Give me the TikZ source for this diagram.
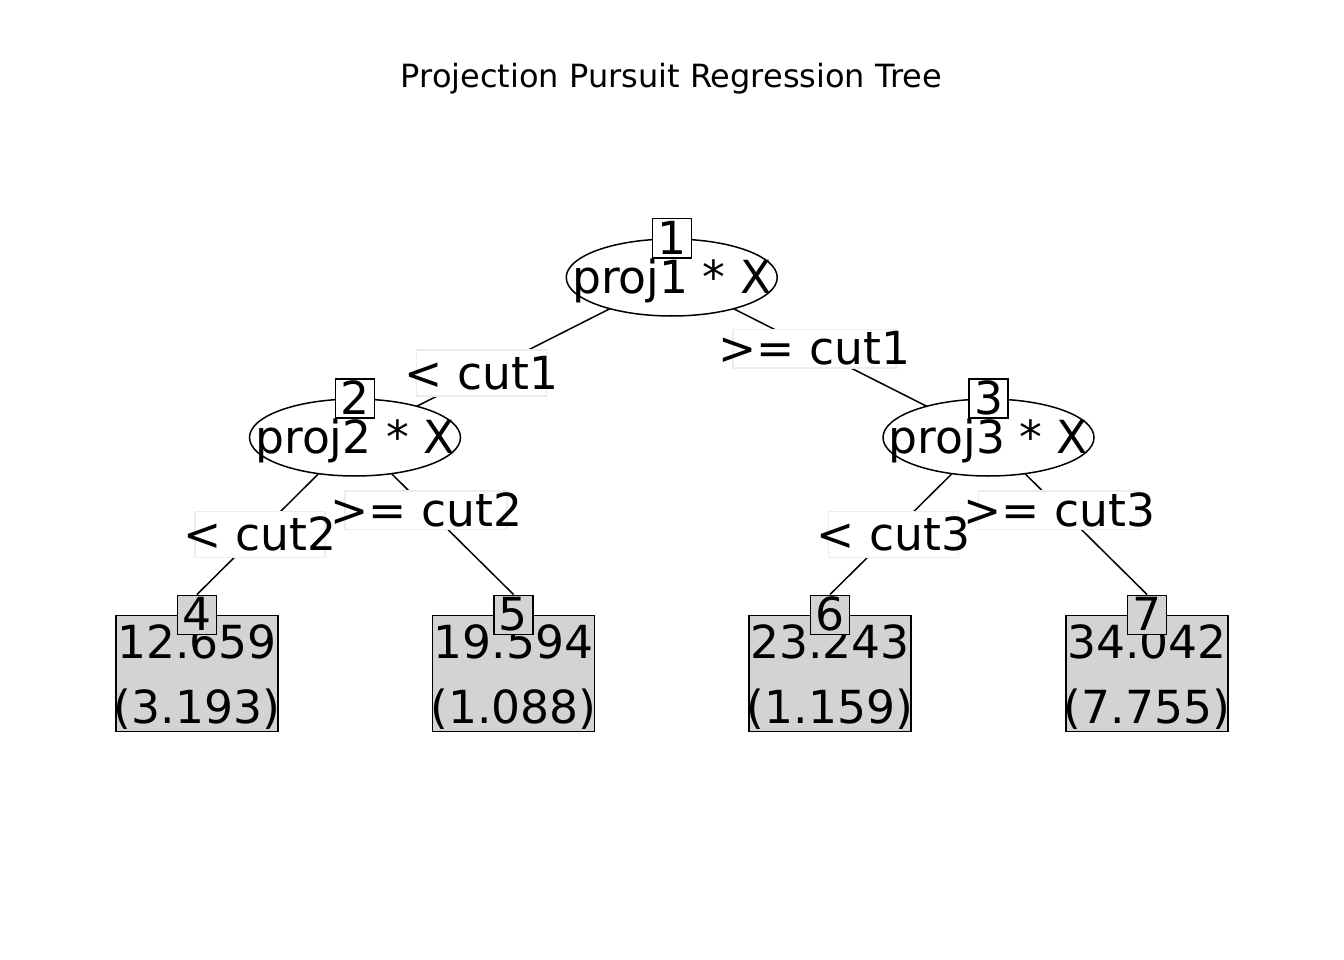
\documentclass[tikz,border=0pt]{standalone}
\usepackage{fontspec}
\setmainfont{DejaVu Sans}
\usetikzlibrary{shapes.geometric,backgrounds}
\definecolor{lgray}{RGB}{211,211,211}
\definecolor{lborder}{RGB}{236,236,236}
\tikzset{
  bigtext/.style={font=\fontsize{45.6pt}{55pt}\selectfont, text height=32pt, text depth=0pt, inner sep=0pt},
  innernode/.style={ellipse, draw, fill=white, line width=1.5pt, minimum width=211pt, minimum height=77pt, inner sep=0pt},
  idbox/.style={rectangle, draw, fill=white, line width=1.5pt, minimum width=39pt, minimum height=39pt, inner sep=0pt, bigtext},
  tidbox/.style={idbox, fill=lgray},
  termnode/.style={rectangle, draw, fill=lgray, line width=1.5pt, minimum width=162pt, minimum height=116pt, inner sep=0pt},
  edgelab/.style={rectangle, draw=lborder, fill=white, line width=1.5pt, inner sep=0pt},
  shortlab/.style={edgelab, minimum width=130pt, minimum height=46pt},
  longlab/.style={edgelab, minimum width=162pt, minimum height=38.5pt},
  conn/.style={draw, line width=1.5pt},
  lt/.style={bigtext}
}
\begin{document}
\begin{tikzpicture}[x=1pt, y=-1pt]
\useasboundingbox (0,0) rectangle (1344,960);
\node[font=\fontsize{32pt}{38pt}\selectfont, anchor=base, inner sep=0pt] (title) at (671.5,87.3) {Projection Pursuit Regression Tree};

% inner nodes
\node[innernode, label={[lt]center:proj1 * X}] (n1) at (671.75,277.5) {};
\node[innernode, label={[lt]center:proj2 * X}] (n2) at (355,437.5) {};
\node[innernode, label={[lt]center:proj3 * X}] (n3) at (988.5,437.5) {};
\node[idbox] (id1) at (n1.north) {1};
\node[idbox] (id2) at (n2.north) {2};
\node[idbox] (id3) at (n3.north) {3};

% terminal nodes
\node[termnode, label={[lt, yshift=30.6pt]center:12.659}, label={[lt, yshift=-33.9pt]center:(3.193)}] (t4) at (197,673.5) {};
\node[termnode, label={[lt, yshift=30.6pt]center:19.594}, label={[lt, yshift=-33.9pt]center:(1.088)}] (t5) at (513.5,673.5) {};
\node[termnode, label={[lt, yshift=30.6pt]center:23.243}, label={[lt, yshift=-33.9pt]center:(1.159)}] (t6) at (830,673.5) {};
\node[termnode, label={[lt, yshift=30.6pt]center:34.042}, label={[lt, yshift=-33.9pt]center:(7.755)}] (t7) at (1147,673.5) {};
\node[tidbox] (id4) at (t4.north) {4};
\node[tidbox] (id5) at (t5.north) {5};
\node[tidbox] (id6) at (t6.north) {6};
\node[tidbox] (id7) at (t7.north) {7};

% edge labels
\node[shortlab, label={[lt]center:< cut1}] (e12) at (481.7,373) {};
\node[longlab, minimum width=163pt, label={[lt]center:>= cut1}] (e13) at (814.5,348.5) {};
\node[shortlab, label={[lt]center:< cut2}] (e24) at (260,534.5) {};
\node[longlab, label={[lt]center:>= cut2}] (e25) at (426.2,510) {};
\node[shortlab, label={[lt]center:< cut3}] (e36) at (893.4,534.5) {};
\node[longlab, label={[lt]center:>= cut3}] (e37) at (1059.6,510) {};

% connectors
\begin{pgfonlayer}{background}
\draw[conn] (n1.center) -- (n2.center);
\draw[conn] (n1.center) -- (n3.center);
\draw[conn] (n2.center) -- (id4.north);
\draw[conn] (n2.center) -- (id5.north);
\draw[conn] (n3.center) -- (id6.north);
\draw[conn] (n3.center) -- (id7.north);
\end{pgfonlayer}
\end{tikzpicture}
\end{document}
